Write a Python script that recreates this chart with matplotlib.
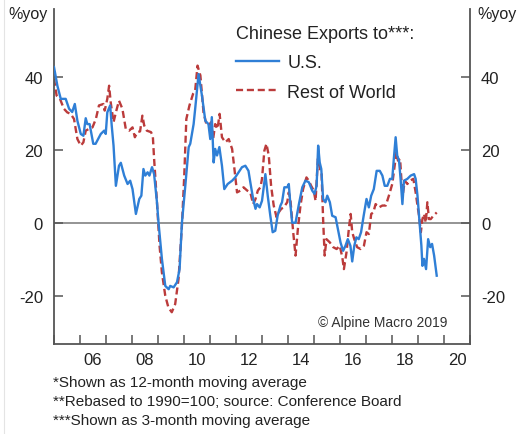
import matplotlib
matplotlib.use("Agg")
import matplotlib.pyplot as plt
from matplotlib.lines import Line2D

plt.rcParams['font.family'] = ['Liberation Sans', 'DejaVu Sans']

# ---- data (decimal years, % yoy) ----
us_dates = [2005.00, 2005.13, 2005.26, 2005.45, 2005.58, 2005.70, 2005.80, 2005.90, 2006.03, 2006.13,
            2006.22, 2006.28, 2006.37, 2006.51, 2006.60, 2006.80, 2006.93, 2006.99, 2007.05, 2007.16,
            2007.22, 2007.29, 2007.38, 2007.50, 2007.57, 2007.70, 2007.83, 2007.93, 2008.02, 2008.15,
            2008.28, 2008.36, 2008.44, 2008.51, 2008.60, 2008.67, 2008.77, 2008.85, 2008.96, 2009.02,
            2009.15, 2009.28, 2009.41, 2009.47, 2009.60, 2009.73, 2009.83, 2009.92, 2010.05, 2010.18,
            2010.24, 2010.37, 2010.43, 2010.56, 2010.69, 2010.82, 2010.94, 2011.01, 2011.07, 2011.14,
            2011.20, 2011.27, 2011.36, 2011.46, 2011.55, 2011.68, 2011.85, 2011.97, 2012.10, 2012.23,
            2012.36, 2012.48, 2012.55, 2012.66, 2012.75, 2012.81, 2012.91, 2013.00, 2013.13, 2013.22,
            2013.32, 2013.41, 2013.51, 2013.60, 2013.71, 2013.77, 2013.86, 2013.97, 2014.03, 2014.09,
            2014.16, 2014.29, 2014.42, 2014.55, 2014.67, 2014.80, 2014.93, 2015.02, 2015.10, 2015.16,
            2015.22, 2015.28, 2015.35, 2015.44, 2015.51, 2015.61, 2015.70, 2015.83, 2015.92, 2016.02,
            2016.12, 2016.21, 2016.30, 2016.40, 2016.47, 2016.55, 2016.63, 2016.72, 2016.81, 2016.91,
            2017.02, 2017.11, 2017.20, 2017.30, 2017.41, 2017.53, 2017.63, 2017.72, 2017.82, 2017.92,
            2018.01, 2018.07, 2018.14, 2018.20, 2018.27, 2018.33, 2018.40, 2018.46, 2018.59, 2018.72,
            2018.85, 2018.91, 2018.98, 2019.04, 2019.13, 2019.17, 2019.23, 2019.31, 2019.39, 2019.47,
            2019.54, 2019.62, 2019.72]
us_values = [42.6, 37.5, 33.9, 33.9, 31.2, 30.3, 32.5, 27.9, 24.3, 23.8,
             28.6, 27.0, 27.0, 21.6, 21.6, 24.3, 25.2, 24.3, 30.2, 32.1,
             26.6, 21.1, 10.1, 15.6, 16.4, 12.9, 10.6, 11.5, 9.2, 2.4,
             6.5, 7.4, 14.7, 12.9, 13.8, 12.9, 15.2, 13.3, 5.6, 0.0,
             -9.9, -17.3, -18.2, -17.3, -17.7, -16.3, -12.7, 0.0, 10.1, 20.7,
             21.6, 27.0, 31.2, 40.7, 34.8, 27.9, 27.0, 22.9, 28.9, 16.5,
             20.2, 18.4, 20.7, 15.6, 9.2, 10.6, 11.5, 12.4, 13.8, 15.2,
             15.6, 14.2, 11.1, 6.5, 3.8, 5.1, 4.2, 6.0, 13.3, 7.4,
             1.9, -2.6, -2.2, 1.9, 4.7, 5.6, 9.7, 9.7, 10.6, 5.1,
             0.0, 0.0, 5.1, 9.7, 11.5, 11.1, 8.8, 7.9, 10.1, 21.1,
             16.5, 14.7, 6.5, 5.6, 7.4, 5.6, 1.9, 1.5, -1.7, -5.4,
             -7.7, -6.3, -4.5, -6.3, -10.6, -6.3, -4.0, -4.5, -2.6, 1.9,
             6.5, 4.2, 7.4, 9.2, 14.2, 14.2, 12.9, 10.1, 10.1, 12.0,
             12.0, 17.5, 23.4, 18.4, 17.0, 12.0, 5.1, 11.5, 12.0, 12.9,
             13.3, 12.0, 7.4, 1.9, -6.3, -11.8, -9.9, -12.7, -4.5, -6.7,
             -5.8, -9.0, -14.5]

row_dates = [2005.00, 2005.10, 2005.23, 2005.38, 2005.51, 2005.64, 2005.77, 2005.90, 2006.03, 2006.13,
             2006.22, 2006.35, 2006.48, 2006.61, 2006.73, 2006.90, 2006.95, 2007.05, 2007.12, 2007.18,
             2007.29, 2007.38, 2007.50, 2007.63, 2007.76, 2007.89, 2008.02, 2008.11, 2008.21, 2008.31,
             2008.40, 2008.47, 2008.57, 2008.73, 2008.80, 2008.85, 2008.96, 2009.06, 2009.15, 2009.28,
             2009.40, 2009.53, 2009.66, 2009.79, 2009.92, 2010.01, 2010.09, 2010.21, 2010.35, 2010.43,
             2010.52, 2010.63, 2010.75, 2010.86, 2010.95, 2011.04, 2011.12, 2011.20, 2011.29, 2011.37,
             2011.46, 2011.59, 2011.72, 2011.85, 2011.94, 2012.04, 2012.17, 2012.29, 2012.43, 2012.55,
             2012.66, 2012.75, 2012.84, 2012.94, 2013.00, 2013.09, 2013.17, 2013.26, 2013.35, 2013.45,
             2013.56, 2013.64, 2013.74, 2013.84, 2013.97, 2014.03, 2014.09, 2014.20, 2014.29, 2014.38,
             2014.48, 2014.58, 2014.71, 2014.80, 2014.89, 2014.99, 2015.06, 2015.15, 2015.23, 2015.29,
             2015.35, 2015.41, 2015.48, 2015.61, 2015.74, 2015.87, 2015.99, 2016.09, 2016.15, 2016.25,
             2016.34, 2016.41, 2016.47, 2016.55, 2016.66, 2016.79, 2016.92, 2017.02, 2017.11, 2017.20,
             2017.28, 2017.37, 2017.50, 2017.63, 2017.76, 2017.88, 2018.01, 2018.10, 2018.17, 2018.23,
             2018.31, 2018.36, 2018.42, 2018.49, 2018.59, 2018.69, 2018.82, 2018.91, 2018.98, 2019.04,
             2019.11, 2019.17, 2019.23, 2019.30, 2019.36, 2019.42, 2019.49, 2019.59, 2019.72]
row_values = [39.4, 34.8, 33.9, 31.2, 30.2, 29.8, 28.4, 22.9, 21.1, 22.0,
              25.2, 25.7, 26.1, 28.4, 32.1, 32.5, 30.7, 33.9, 37.5, 33.0,
              27.5, 30.2, 33.4, 31.2, 25.7, 25.2, 26.1, 23.4, 24.8, 25.0,
              29.3, 26.6, 25.2, 24.8, 23.8, 17.5, 5.6, -6.3, -13.6, -20.0,
              -23.2, -24.5, -22.3, -15.4, -0.8, 12.9, 28.4, 32.1, 35.3, 36.2,
              43.0, 40.3, 30.2, 27.0, 26.6, 27.5, 22.9, 27.0, 25.7, 29.8,
              23.4, 22.0, 22.9, 20.2, 14.7, 8.3, 8.8, 9.7, 8.8, 8.3,
              5.1, 6.5, 8.8, 9.7, 12.0, 19.7, 21.6, 18.4, 10.1, 4.7,
              1.5, 2.8, 3.8, 4.2, 5.6, 8.3, 6.5, -2.6, -9.0, -1.7,
              4.7, 9.2, 12.4, 11.5, 10.1, 8.8, 6.0, 17.5, 14.7, 13.8,
              1.0, -9.0, -4.5, -5.4, -6.7, -7.2, -6.3, -9.5, -12.7, -8.1,
              -1.7, 2.4, -2.6, -4.5, -6.7, -7.2, -6.3, -2.6, -3.1, 2.4,
              2.8, 5.1, 4.2, 4.7, 4.7, 7.4, 10.6, 15.6, 19.3, 17.0,
              17.5, 12.0, 7.9, 11.5, 10.6, 11.5, 12.0, 8.3, 4.7, 1.9,
              -2.6, 1.0, 2.4, 0.0, 5.6, 1.0, 1.0, 1.9, 2.8]

year_ticks = list(range(2005, 2022))
year_labels = ['06', '08', '10', '12', '14', '16', '18', '20']
label_years = [2006, 2008, 2010, 2012, 2014, 2016, 2018, 2020]
y_ticks = [-20, 0, 20, 40]

BLUE = '#2f7fd6'
RED = '#bb3b3b'
SPINE = '#555555'

fig = plt.figure(figsize=(5.18, 4.35), dpi=100)
ax = fig.add_axes([54/518, 1 - 345/435, (470 - 54)/518, (345 - 10)/435])

ax.axhline(0, color='#777777', lw=1.1, zorder=1)
ax.plot(us_dates, us_values, color=BLUE, lw=1.7, label='U.S.', zorder=3)
ax.plot(row_dates, row_values, color=RED, lw=1.7, dashes=(3.0, 1.6), label='Rest of World', zorder=2)

ax.set_xlim(2005, 2021)
ax.set_ylim(-33.2, 58.5)

for s in ['left', 'right', 'bottom']:
    ax.spines[s].set_color(SPINE)
    ax.spines[s].set_linewidth(1.3)
ax.spines['top'].set_visible(False)

ax.set_xticks(year_ticks)
ax.set_xticklabels([])
ax.set_xticks([y + 0.5 for y in label_years], minor=True)
ax.set_xticklabels(year_labels, minor=True)
ax.tick_params(axis='x', which='major', direction='in', length=6.5, width=1.1, color=SPINE)
ax.tick_params(axis='x', which='minor', length=0, pad=6, labelsize=12, labelcolor='#222222')

ax.set_yticks(y_ticks)
ax.set_yticklabels([str(v) for v in y_ticks])
ax.tick_params(axis='y', which='major', direction='in', length=6.5, width=1.1, color=SPINE,
               labelsize=12, labelcolor='#222222', pad=8, right=True, labelright=True)

leg = ax.legend(loc='upper left', bbox_to_anchor=((227 - 54)/416, (345 - 17)/335),
                frameon=False, fontsize=13, title='Chinese Exports to***:', title_fontsize=13,
                handlelength=2.4, handletextpad=0.45, labelspacing=0.68, borderpad=0,
                alignment='left')
for t in leg.get_texts():
    t.set_color('#222222')
leg.get_title().set_color('#222222')

ax.text(0.945, 0.065, '\u00a9 Alpine Macro 2019', transform=ax.transAxes, ha='right', va='center',
        fontsize=10, color='#333333')

fig.text(8/518, 1 - 15/435, '%yoy', ha='left', va='center', fontsize=11.5, color='#222222')
fig.text(477/518, 1 - 15/435, '%yoy', ha='left', va='center', fontsize=11.5, color='#222222')

notes = ['*Shown as 12-month moving average',
         '**Rebased to 1990=100; source: Conference Board',
         '***Shown as 3-month moving average']
for i, n in enumerate(notes):
    fig.text(53/518, 1 - (383 + 19 * i)/435, n, ha='left', va='center', fontsize=11, color='#222222')

fig.add_artist(Line2D([4/518, 4/518], [0, 1], transform=fig.transFigure, color='#e4e4e4', lw=0.8))

fig.savefig('out.png', dpi=100)
